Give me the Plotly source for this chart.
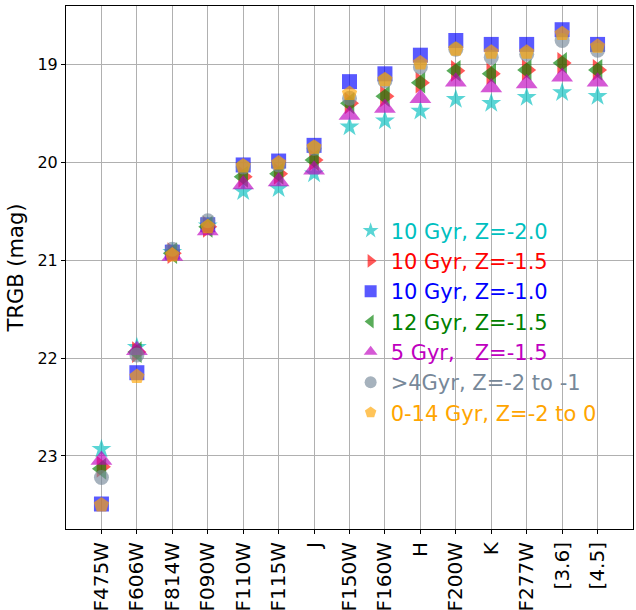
import plotly.graph_objects as go

filters = ["F475W", "F606W", "F814W", "F090W", "F110W", "F115W", "J", "F150W",
           "F160W", "H", "F200W", "K", "F277W", "[3.6]", "[4.5]"]

trgb_10gyr_z20 = [22.93, 21.89, 20.92, 20.65, 20.30, 20.27, 20.12, 19.64, 19.58, 19.48, 19.36, 19.40, 19.34, 19.29, 19.33]
trgb_10gyr_z15 = [23.11, 21.94, 20.93, 20.66, 20.15, 20.12, 19.98, 19.40, 19.33, 19.19, 19.07, 19.10, 19.06, 18.99, 19.06]
trgb_10gyr_z10 = [23.49, 22.15, 20.92, 20.64, 20.03, 19.99, 19.83, 19.18, 19.10, 18.91, 18.76, 18.80, 18.80, 18.65, 18.80]
trgb_12gyr_z15 = [23.13, 21.94, 20.93, 20.66, 20.15, 20.12, 19.98, 19.40, 19.33, 19.19, 19.07, 19.10, 19.06, 18.99, 19.06]
trgb_5gyr_z15 = [23.04, 21.92, 20.96, 20.70, 20.23, 20.20, 20.08, 19.52, 19.45, 19.35, 19.18, 19.24, 19.20, 19.13, 19.18]
trgb_gt4gyr = [23.22, 21.97, 20.89, 20.60, 20.05, 20.03, 19.86, 19.35, 19.17, 19.03, 18.85, 18.93, 18.90, 18.76, 18.86]
trgb_0_14gyr = [23.50, 22.19, 20.95, 20.66, 20.04, 20.01, 19.85, 19.30, 19.16, 18.99, 18.85, 18.88, 18.88, 18.69, 18.82]

series = [
    ("10 Gyr, Z=-2.0", trgb_10gyr_z20, "star", 15, "#00BFBF"),
    ("10 Gyr, Z=-1.5", trgb_10gyr_z15, "triangle-right", 19, "#FF0000"),
    ("10 Gyr, Z=-1.0", trgb_10gyr_z10, "square", 15, "#0000FF"),
    ("12 Gyr, Z=-1.5", trgb_12gyr_z15, "triangle-left", 19, "#008000"),
    ("5 Gyr,&nbsp;&nbsp;&nbsp;Z=-1.5", trgb_5gyr_z15, "triangle-up", 19, "#BF00BF"),
    (">4Gyr, Z=-2 to -1", trgb_gt4gyr, "circle", 15, "#778899"),
    ("0-14 Gyr, Z=-2 to 0", trgb_0_14gyr, "pentagon", 16, "#FFA500"),
]

fig = go.Figure()
for name, vals, sym, size, col in series:
    fig.add_trace(go.Scatter(
        x=filters, y=vals, mode="markers",
        name=f"<span style='color:{col}'>{name}</span>",
        marker=dict(symbol=sym, size=size, color=col, opacity=0.65, line=dict(width=0)),
    ))

fig.update_layout(
    width=636, height=610,
    margin=dict(l=66, r=3, t=6, b=81),
    paper_bgcolor="white", plot_bgcolor="white",
    font=dict(family="DejaVu Sans", size=16, color="black"),
    showlegend=True,
    legend=dict(x=0.502, y=0.609, xanchor="left", yanchor="top",
                bgcolor="rgba(0,0,0,0)", font=dict(size=21),
                itemsizing="constant", itemwidth=30, tracegroupgap=0),
    xaxis=dict(
        type="category", categoryorder="array", categoryarray=filters,
        range=[-1, 15], showgrid=True, gridcolor="#b0b0b0", gridwidth=1,
        showline=True, linecolor="black", linewidth=1, mirror=True,
        ticks="outside", ticklen=4, tickcolor="black",
        tickangle=-90, tickfont=dict(size=20), automargin=False,
    ),
    yaxis=dict(
        range=[23.745, 18.408], tickvals=[19, 20, 21, 22, 23],
        showgrid=True, gridcolor="#b0b0b0", gridwidth=1,
        showline=True, linecolor="black", linewidth=1, mirror=True,
        ticks="outside", ticklen=4, tickcolor="black",
        tickfont=dict(size=16), zeroline=False, automargin=False,
        title=dict(text="TRGB (mag)", font=dict(size=21), standoff=8),
    ),
)

fig.write_html("out.html", config={"displayModeBar": False},
               post_script="document.body.style.margin='0';document.body.style.overflow='hidden';")
